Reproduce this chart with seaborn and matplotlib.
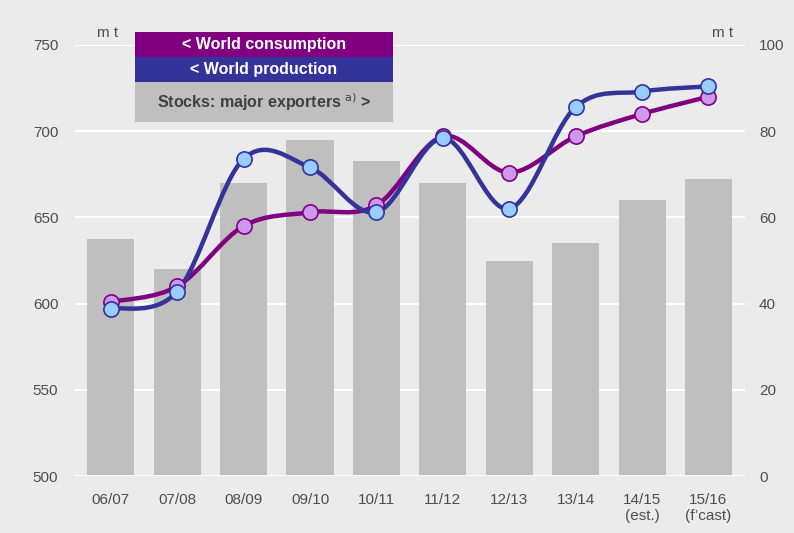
import matplotlib
matplotlib.use("Agg")
import matplotlib.pyplot as plt
import seaborn as sns
import numpy as np
from matplotlib.path import Path
from matplotlib.patches import PathPatch, Rectangle

# data
seasons = ["06/07", "07/08", "08/09", "09/10", "10/11", "11/12", "12/13", "13/14",
           "14/15\n(est.)", "15/16\n(f\u2019cast)"]
consumption = [601, 610, 645, 653, 657, 697, 676, 697, 710, 720]
production = [597, 607, 684, 679, 653, 696, 655, 714, 723, 726]
stocks = [55, 48, 68, 78, 73, 68, 50, 54, 64, 69]

left_ticks = [500, 550, 600, 650, 700, 750]
right_ticks = [0, 20, 40, 60, 80, 100]

BG = "#ebebeb"
BAR = "#bfbfbf"
CONS = "#800080"
CONS_M = "#cc99ee"
PROD = "#333399"
PROD_M = "#99ccff"
TXT = "#4d4d4d"

sns.set_theme(style="white")
plt.rcParams["font.family"] = ["Liberation Sans", "DejaVu Sans"]

W, H = 794, 533
fig = plt.figure(figsize=(W / 100, H / 100), dpi=100)
fig.patch.set_facecolor(BG)

L, R, T, B = 75, 745, 45, 476
ax = fig.add_axes([L / W, 1 - B / H, (R - L) / W, (B - T) / H])
ax.patch.set_visible(False)

# bars on right scale
sns.barplot(x=list(range(len(seasons))), y=stocks, ax=ax, color=BAR,
            saturation=1, width=0.71, linewidth=0, zorder=2)
ax.set_ylim(0, 100)
ax.set_yticks(right_ticks)
ax.grid(axis="y", color="white", linewidth=1.5, zorder=0)
ax.set_axisbelow(True)

# lines on left scale
ax2 = ax.twinx()
ax.yaxis.tick_right()
ax2.yaxis.tick_left()
ax2.set_ylim(500, 750)
ax2.set_yticks(left_ticks)


def smooth_path(xs, ys):
    pts = np.column_stack([xs, ys]).astype(float)
    p = np.vstack([pts[0], pts, pts[-1]])
    verts = [tuple(pts[0])]
    codes = [Path.MOVETO]
    for i in range(1, len(p) - 2):
        c1 = p[i] + (p[i + 1] - p[i - 1]) / 6
        c2 = p[i + 1] - (p[i + 2] - p[i]) / 6
        verts += [tuple(c1), tuple(c2), tuple(p[i + 1])]
        codes += [Path.CURVE4] * 3
    return Path(verts, codes)


xs = np.arange(len(seasons))
for vals, col, mcol in [(consumption, CONS, CONS_M), (production, PROD, PROD_M)]:
    ax2.add_patch(PathPatch(smooth_path(xs, vals), facecolor="none",
                            edgecolor=col, linewidth=3.2, zorder=3))
    sns.scatterplot(x=xs, y=vals, ax=ax2, s=120, color=mcol, edgecolor=col,
                    linewidth=1.2, zorder=4)

ax.set_xlim(-0.54, 9.55)
ax.set_xticks(xs)
ax.set_xticklabels(seasons)

for a in (ax, ax2):
    for s in a.spines.values():
        s.set_visible(False)
    a.tick_params(length=0, labelsize=11, labelcolor=TXT)
    a.set_xlabel("")
    a.set_ylabel("")
ax.tick_params(axis="y", pad=10)
ax2.tick_params(axis="y", pad=12)
ax.tick_params(axis="x", pad=12)
ax2.axhline(500, color="white", linewidth=2, zorder=1)

# unit labels
fig.text(97 / W, 1 - 33 / H, "m t", ha="left", va="center", fontsize=11, color=TXT)
fig.text(733 / W, 1 - 33 / H, "m t", ha="right", va="center", fontsize=11, color=TXT)

# legend boxes
boxes = [
    (32, 57, CONS, "< World consumption", "white"),
    (57, 82, PROD, "< World production", "white"),
    (82, 122, BAR, "Stocks: major exporters $^{\\mathrm{a)}}$ >", "#404040"),
]
for top, bot, fc, label, tc in boxes:
    fig.patches.append(Rectangle((135 / W, 1 - bot / H), 258 / W, (bot - top) / H,
                                 transform=fig.transFigure, facecolor=fc,
                                 edgecolor="none", zorder=5))
    fig.text(264 / W, 1 - (top + bot) / 2 / H, label, ha="center", va="center",
             fontsize=11.5, fontweight="bold", color=tc, zorder=6)

fig.savefig("out.png", dpi=100, facecolor=BG)
